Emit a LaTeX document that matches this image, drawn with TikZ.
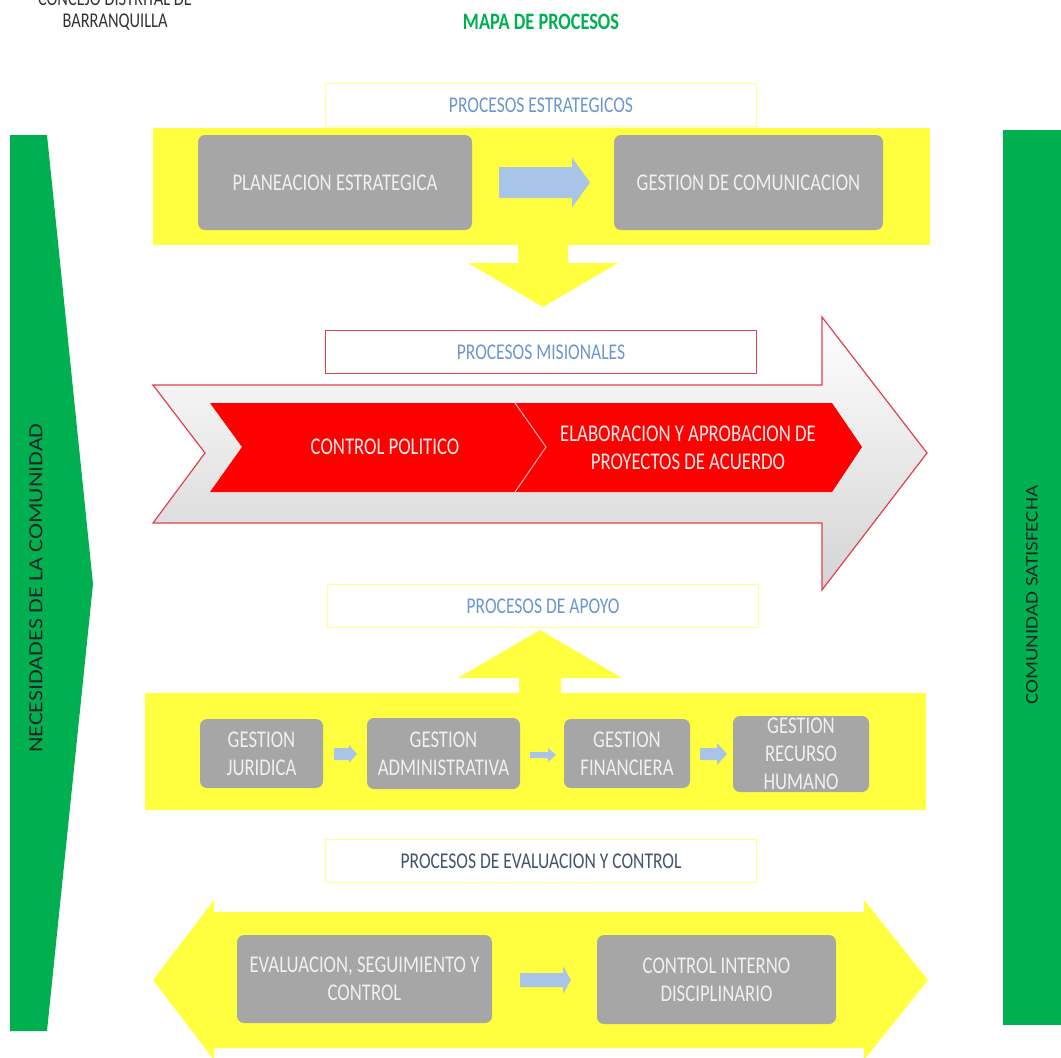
\documentclass[tikz,border=0pt]{standalone}
\usepackage{fontspec}
\setmainfont{Carlito}[FakeStretch=0.78]
\newfontfamily\vfont{Carlito}
\usetikzlibrary{calc}
\definecolor{MGreen}{HTML}{00B050}
\definecolor{MYellow}{HTML}{FFFF40}
\definecolor{MPale}{HTML}{FFFF8C}
\definecolor{MGray}{HTML}{A6A6A6}
\definecolor{MBlue}{HTML}{A8C4E6}
\definecolor{MRed}{HTML}{FF0000}
\definecolor{MLine}{HTML}{E0404F}
\definecolor{MTitle}{HTML}{6C96CF}
\definecolor{MSlate}{HTML}{44546A}
\tikzset{
    box/.style = {fill=MGray, rounded corners=7pt,
        text=white!94!black, align=center, inner sep=0pt,
        font=\fontsize{24}{28}\selectfont},
    titlebox/.style = {draw=MPale, line width=1.5pt, fill=white,
        minimum width=431pt, minimum height=43pt,
        text=MTitle, font=\fontsize{22.5}{26}\selectfont},
    chevtext/.style = {text=white!92!red, align=center, font=\fontsize{24}{28}\selectfont},
    sidetext/.style = {rotate=90, yscale=0.84, text=black!85, font=\vfont\fontsize{24}{28}\selectfont}
}
% blue block arrow: start, head start, tip, y, half shaft, half head
\newcommand{\barrow}[6]{%
    \fill[MBlue] (#1,#4-#5) -- (#2,#4-#5) -- (#2,#4-#6) -- (#3,#4)
        -- (#2,#4+#6) -- (#2,#4+#5) -- (#1,#4+#5) -- cycle;}
\begin{document}
\begin{tikzpicture}[x=1pt,y=-1pt]
    \useasboundingbox (0,0) rectangle (1061,1058);
    % header
    \node[text=black!80, font=\fontsize{21}{24}\selectfont] (concejo) at (115,-1) {CONCEJO DISTRITAL DE};
    \node[text=black!80, font=\fontsize{21}{24}\selectfont] (barranq) at (115,22.5) {BARRANQUILLA};
    \node[text=MGreen, font=\bfseries\fontsize{23.5}{26}\selectfont] (mapa) at (541,22) {MAPA DE PROCESOS};
    % sides
    \fill[MGreen] (10,135) -- (47,135) -- (93,584) -- (47,1031) -- (10,1031) -- cycle;
    \node[sidetext] (necesidad) at (36,588) {NECESIDADES DE LA COMUNIDAD};
    \fill[MGreen] (1003,130) rectangle (1061,1025);
    \node[sidetext, font=\vfont\fontsize{21}{24}\selectfont] (satisf) at (1032,595) {COMUNIDAD SATISFECHA};
    % estrategicos
    \node[titlebox] (testr) at (541,105) {PROCESOS ESTRATEGICOS};
    \fill[MYellow] (153,128) rectangle (930,245);
    \node[box, minimum width=274pt, minimum height=95pt] (plan) at (335,182.5) {PLANEACION ESTRATEGICA};
    \node[box, minimum width=269pt, minimum height=95pt] (comun) at (748.5,182.5) {GESTION DE COMUNICACION};
    \barrow{499}{572}{590}{182.5}{15.5}{25}
    \fill[MYellow] (518,244) -- (568,244) -- (568,263) -- (618,263) -- (543,307) -- (468,263) -- (518,263) -- cycle;
    % misionales
    \shadedraw[top color=white, bottom color=black!17, draw=MLine, line width=1.2pt]
        (153,385) -- (822,385) -- (822,317) -- (927,453) -- (822,590) -- (822,523) -- (153,523) -- (205,453) -- cycle;
    \node[titlebox, draw=MLine] (tmision) at (541,352) {PROCESOS MISIONALES};
    \fill[MRed] (210,403) -- (515,403) -- (546,447) -- (515,492) -- (210,492) -- (242,447) -- cycle;
    \fill[MRed] (515,403) -- (832,403) -- (862,447) -- (832,492) -- (515,492) -- (546,447) -- cycle;
    \draw[white!70!red, line width=1pt] (515,403) -- (546,447) -- (515,492);
    \node[chevtext] (ctrlpol) at (385,447) {CONTROL POLITICO};
    \node[chevtext] (elabor) at (688,448) {ELABORACION Y APROBACION DE\\PROYECTOS DE ACUERDO};
    % apoyo
    \node[titlebox] (tapoyo) at (543,606) {PROCESOS DE APOYO};
    \fill[MYellow] (519,694) -- (519,678) -- (458,678) -- (540,630) -- (622,678) -- (561,678) -- (561,694) -- cycle;
    \fill[MYellow] (145,693) rectangle (926,810);
    \node[box, minimum width=123pt, minimum height=69pt] (jurid) at (261.5,753.5) {GESTION\\JURIDICA};
    \node[box, minimum width=153pt, minimum height=71pt] (admin) at (443.5,753.5) {GESTION\\ADMINISTRATIVA};
    \node[box, minimum width=126pt, minimum height=69pt] (financ) at (627,753.5) {GESTION\\FINANCIERA};
    \node[box, minimum width=136pt, minimum height=76pt] (humano) at (801,754) {GESTION\\RECURSO\\HUMANO};
    \barrow{334}{349}{357}{754}{6}{9}
    \barrow{530}{548}{556}{755}{3}{7}
    \barrow{700}{717}{727}{754}{6}{11}
    % evaluacion
    \node[titlebox, text=MSlate] (teval) at (541,861) {PROCESOS DE EVALUACION Y CONTROL};
    \fill[MYellow] (153,980) -- (214,900) -- (214,912) -- (864,912) -- (864,900) -- (928,980)
        -- (864,1060) -- (864,1048) -- (214,1048) -- (214,1060) -- cycle;
    \node[box, minimum width=255pt, minimum height=88pt] (evalua) at (364.5,979) {EVALUACION, SEGUIMIENTO Y\\CONTROL};
    \node[box, minimum width=239pt, minimum height=89pt] (cinterno) at (716.5,979.5) {CONTROL INTERNO\\DISCIPLINARIO};
    \barrow{520}{563}{571}{980}{7}{14}
\end{tikzpicture}
\end{document}
